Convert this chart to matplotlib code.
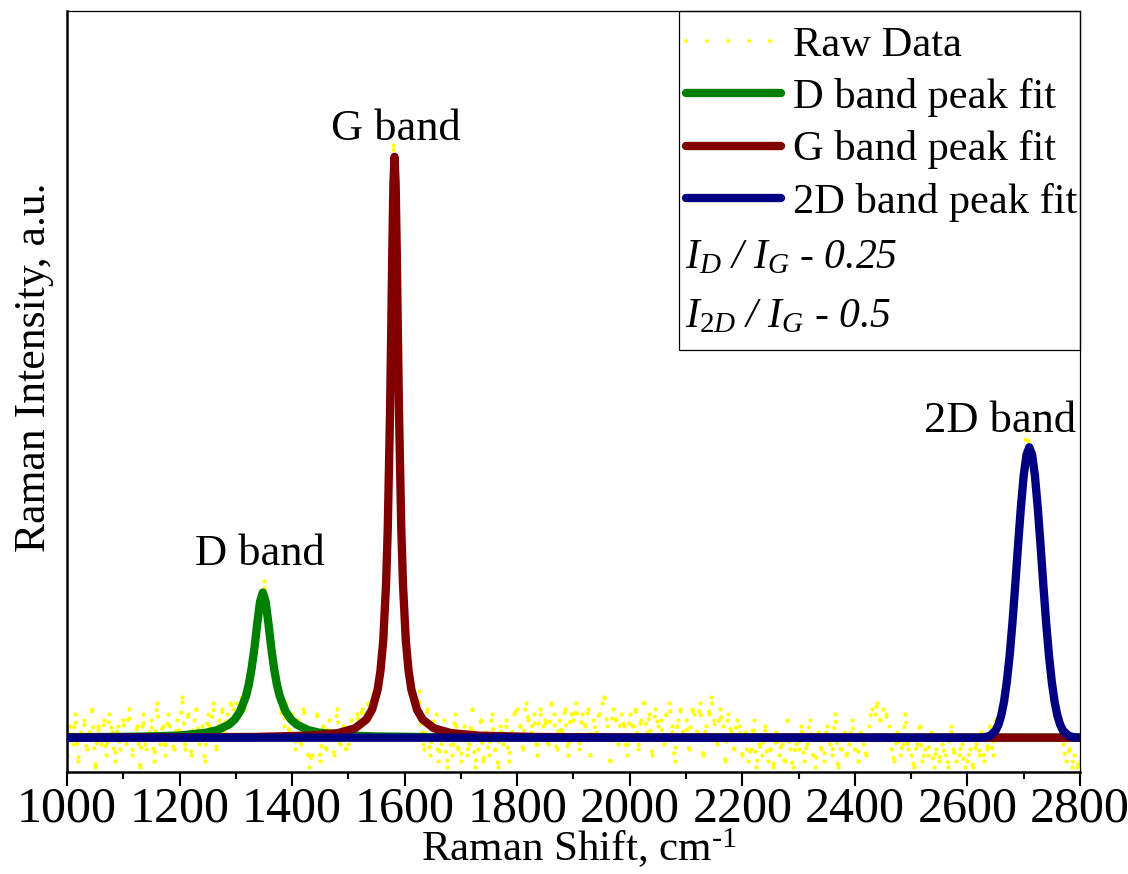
import numpy as np
import matplotlib
matplotlib.use("Agg")
import matplotlib.pyplot as plt
from matplotlib.lines import Line2D
from matplotlib.patches import Rectangle
from matplotlib.ticker import MultipleLocator

plt.rcParams["font.family"] = ["Liberation Serif", "DejaVu Serif"]
plt.rcParams["mathtext.fontset"] = "custom"
plt.rcParams["mathtext.rm"] = "Liberation Serif"
plt.rcParams["mathtext.it"] = "Liberation Serif:italic"

# ---------- data (intensity scaled so G peak = 100) ----------
raw_shift = np.arange(1000, 2801, 5)
raw_intensity = [
    -3, 2, -1, 4, -4, 1, 3, -2, 0, 5, -5, 2, -1, 3, -3, 4, 1, -4, 2, -2,      # 1000
    3, -1, 5, -3, 0, 2, -5, 4, -2, 1, 3, -4, 6, -1, 2, -3, 4, 0, -2, 3,       # 1100
    1, 7, -2, 4, -3, 3, 5, -1, 2, -4, 4, 1, 6, -2, 3, 5, 0, 4, 6, 5,          # 1200
    6, 4, 7, 5, 8, 9, 14, 17, 22, 24, 27, 21, 18, 13, 11, 7, 5, 2, 6, 1,      # 1300
    4, -2, 3, -1, 5, 2, -5, -3, 1, 4, -4, 2, -2, 3, 0, -3, 5, -1, 2, -2,      # 1400
    -1, 3, 1, 4, 2, 5, 4, 6, 5, 8, 7, 11, 14, 22, 36, 62, 102, 90, 56, 32,    # 1500
    20, 13, 9, 8, 5, 8, 1, -2, 5, -3, 2, 4, -4, -1, 3, -5, 1, -3, 4, -2,      # 1600
    -4, 2, -3, -1, 5, -5, -2, 3, -4, 1, -3, 4, -2, -5, 2, -1, 3, -4, 0, 4,    # 1700
    5, 2, -2, 6, 3, 1, 4, -3, 5, 2, 3, -1, 6, 4, -2, 3, 1, 5, -3, 4,          # 1800
    3, 6, -2, 4, 2, 5, -3, 3, 1, 4, 6, 7, 2, -4, 5, 3, -1, 4, 2, -3,          # 1900
    4, 2, 5, -2, 3, 6, 1, 4, -3, 5, 2, 3, -1, 4, 6, 2, -4, 3, 5, 1,           # 2000
    3, -2, 5, 4, 1, 6, -3, 2, 4, 7, 3, -1, 5, 2, -4, 4, 1, -2, 3, 2,          # 2100
    -3, 1, -4, -2, 3, -5, -1, -3, 2, -4, -2, -5, 1, -3, -1, -4, 3, -2, -5, -1,  # 2200
    -2, 2, -4, -1, 3, -3, -5, 1, -2, -4, 2, -1, -3, 4, -5, -2, 1, -3, -1, 3,  # 2300
    -2, -4, 1, -1, -3, 2, 5, 4, 6, 3, 5, 4, 2, -2, -4, 1, -3, -1, 4, -2,      # 2400
    -3, -5, -1, 2, -4, -2, -3, 1, -5, -2, -4, -1, -3, -5, 2, -2, -4, -3, -1, -5,  # 2500
    -4, -2, -5, -1, -3, 1, -4, -2, 2, -3, 3, 2, 5, 8, 11, 16, 23, 29, 36, 42,  # 2600
    47, 53, 50, 47, 43, 37, 30, 23, 17, 12, 8, 5, 3, 2, -1, -4, -2, -5, -3, -5,  # 2700
    -4,                                                                        # 2800
]

d_fit_x = [1000, 1100, 1150, 1200, 1248, 1268, 1288, 1298, 1308, 1318,
           1323, 1328, 1333, 1338, 1343, 1348, 1353, 1358, 1363, 1368,
           1373, 1378, 1388, 1398, 1408, 1428, 1448, 1498, 1548, 1650,
           2000, 2800]
d_fit_y = [0.10, 0.15, 0.23, 0.38, 0.87, 1.33, 2.28, 3.15, 4.60, 7.16,
           9.15, 11.9, 15.4, 19.6, 23.4, 25.0, 23.4, 19.6, 15.4, 11.9,
           9.15, 7.16, 4.60, 3.15, 2.28, 1.33, 0.87, 0.39, 0.22, 0.10,
           0.02, 0.01]

g_fit_x = [1000, 1332, 1432, 1482, 1512, 1532, 1542, 1552, 1557, 1562,
           1567, 1570, 1574, 1576, 1578, 1580, 1582, 1584, 1586, 1588,
           1590, 1594, 1597, 1602, 1607, 1612, 1622, 1632, 1652, 1682,
           1732, 1832, 1982, 2800]
g_fit_y = [0.024, 0.13, 0.36, 0.80, 1.63, 3.14, 4.82, 8.26, 11.5, 16.8,
           26.5, 36.0, 55.9, 69.2, 83.5, 95.3, 100.0, 95.3, 83.5, 69.2,
           55.9, 36.0, 26.5, 16.8, 11.5, 8.26, 4.82, 3.14, 1.63, 0.80,
           0.36, 0.13, 0.05, 0.007]

td_fit_x = [1000, 2620, 2630, 2640, 2650, 2655, 2660, 2665, 2670, 2675,
            2680, 2685, 2690, 2695, 2700, 2705, 2710, 2715, 2720, 2725,
            2730, 2735, 2740, 2745, 2750, 2755, 2760, 2765, 2770, 2780,
            2790, 2799, 2800]
td_fit_y = [0, 0.01, 0.07, 0.32, 1.21, 2.20, 3.78, 6.17, 9.58, 14.1,
            19.7, 26.2, 33.1, 39.6, 45.1, 48.7, 50.0, 48.7, 45.1, 39.6,
            33.1, 26.2, 19.7, 14.1, 9.58, 6.17, 3.78, 2.20, 1.21, 0.32,
            0.07, 0.01, 0]

series_labels = ["Raw Data", "D band peak fit", "G band peak fit", "2D band peak fit"]
ratio_labels = [r"$I_D$ / $I_G$ - 0.25", r"$I_{2D}$ / $I_G$ - 0.5"]
bands = [("D band", 1343, 29.8), ("G band", 1585, 102.9), ("2D band", 2658, 52.7)]

YELLOW = "#FFFF00"
dot_style = (0, (0.05, 5.0))

# ---------- figure ----------
fig = plt.figure(figsize=(11.28, 8.74), dpi=100)
ax = fig.add_axes([0.0594, 0.1167, 0.898, 0.8707])

ax.plot(raw_shift, raw_intensity, ls=dot_style, lw=3.0, color=YELLOW,
        dash_capstyle="round", marker="o", ms=3, mew=0, zorder=1)
d_line, = ax.plot(d_fit_x, d_fit_y, color="#008000", lw=6,
                  solid_joinstyle="round", solid_capstyle="round", zorder=2)
g_line, = ax.plot(g_fit_x, g_fit_y, color="#800000", lw=6,
                  solid_joinstyle="round", solid_capstyle="round", zorder=3)
td_line, = ax.plot(td_fit_x, td_fit_y, color="#000080", lw=6,
                   solid_joinstyle="round", solid_capstyle="round", zorder=4)

for name, x, y in bands:
    ax.text(x, y, name, ha="center", va="baseline", fontsize=32)

ax.set_xlim(1000, 2800)
ax.set_ylim(-5.9, 125.1)
ax.set_xticks(range(1000, 2801, 200))
ax.xaxis.set_minor_locator(MultipleLocator(100))
ax.set_yticks([])
ax.tick_params(axis="x", which="major", direction="out", length=10,
               width=1.5, labelsize=36, pad=0)
ax.tick_params(axis="x", which="minor", direction="out", length=5, width=1.5)
for side in ["left", "bottom"]:
    ax.spines[side].set_linewidth(1.8)
for side in ["top", "right"]:
    ax.spines[side].set_linewidth(0.9)

ax.set_xlabel(r"Raman Shift, cm$^{\text{-1}}$", fontsize=31)
ax.xaxis.set_label_coords(0.5054, -0.072)
ax.set_ylabel("Raman Intensity, a.u.", fontsize=31.5)
ax.yaxis.set_label_coords(-0.0128, 0.532)

# legend with box also holding the ratio rows
raw_key = Line2D([], [], ls=(0, (0.05, 5.35)), lw=2.8, color=YELLOW,
                 dash_capstyle="round")
ax.legend([raw_key, d_line, g_line, td_line], series_labels,
          loc="upper left", bbox_to_anchor=(0.5987, 0.996), frameon=False,
          fontsize=30.6, handlelength=2.235, handletextpad=0.28, borderpad=0.29,
          borderaxespad=0, labelspacing=0.31, numpoints=1)
ax.add_patch(Rectangle((0.604, 0.5545), 0.396, 0.4455, transform=ax.transAxes,
                       fill=False, ec="black", lw=0.9, clip_on=False, zorder=5))
ax.text(0.610, 0.662, ratio_labels[0], transform=ax.transAxes, fontsize=30,
        fontstyle="italic", ha="left", va="baseline")
ax.text(0.610, 0.585, ratio_labels[1], transform=ax.transAxes, fontsize=30,
        fontstyle="italic", ha="left", va="baseline")

fig.savefig("out.png", dpi=100)
